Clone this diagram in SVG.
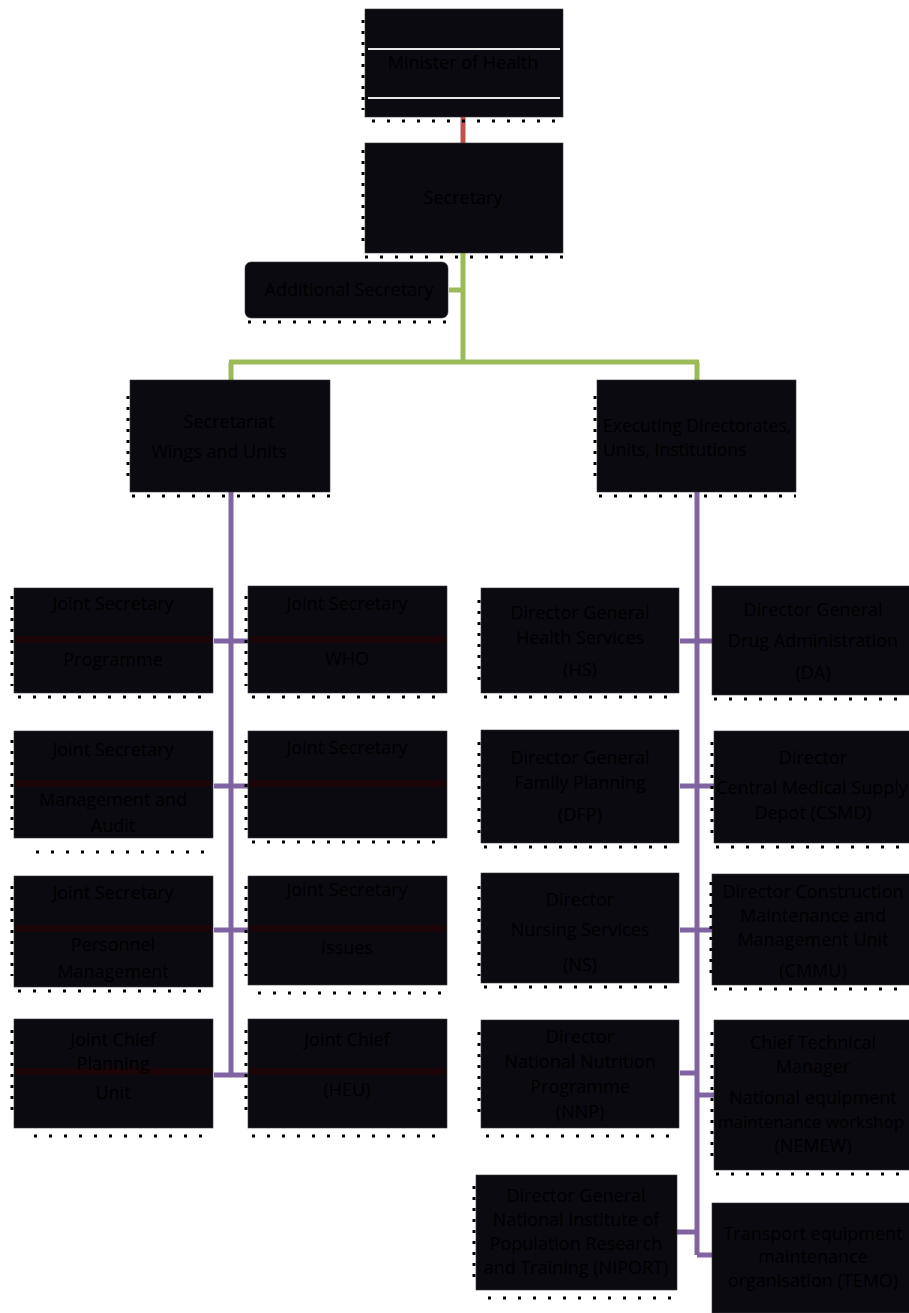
<svg xmlns="http://www.w3.org/2000/svg" width="909" height="1313" viewBox="0 0 909 1313">
<style>
.box{fill:#0b0a10;stroke:#3a3a3a;stroke-width:0.6}
.t{font-family:"Open Sans","Liberation Sans",sans-serif;font-size:18px;fill:#000;text-anchor:middle}
.tl{font-family:"Open Sans","Liberation Sans",sans-serif;font-size:17.5px;fill:#000}
.dotb{stroke:#000;stroke-width:3;stroke-dasharray:3 12;fill:none}
.dotl{stroke:#000;stroke-width:3;stroke-dasharray:3 8;fill:none}
.red{stroke:#c0504d;stroke-width:5;fill:none}
.grn{stroke:#9bbb59;stroke-width:5;fill:none}
.pur{stroke:#8064a2;stroke-width:5;fill:none}
.band{fill:#1a0608}
</style>
<rect width="909" height="1313" fill="#fff"/>
<g id="connectors">
<path class="red" d="M463 117V143"/>
<path class="grn" d="M463 253V362M449 290H463M229 362H699M231 362V380M697 362V380"/>
<path class="pur" d="M231 492V1075M214 641H248M214 786H248M214 930H248M214 1075H248"/>
<path class="pur" d="M697 492V1255M680 641H714M680 786H714M680 930H714M680 1073H697M697 1095H714M677 1232H697M697 1255H714"/>
</g>
<g id="minister">
<rect class="box" x="365" y="9" width="198" height="108"/>
<path d="M368 49H560M368 98H560" stroke="#e8e8e8" stroke-width="2"/>
<path class="dotb" d="M372 121H563"/><path class="dotl" d="M363 20V110"/>
<text class="t" x="463" y="69">Minister of Health</text>
</g>
<g id="secretary">
<rect class="box" x="365" y="143" width="198" height="110"/>
<path class="dotb" d="M365 257H563"/><path class="dotl" d="M363 150V245"/>
<text class="t" x="463" y="204">Secretary</text>
</g>
<g id="additional">
<rect class="box" x="245" y="262" width="203" height="56" rx="6"/>
<path class="dotb" d="M248 322H446"/>
<text class="t" x="349" y="296">Additional Secretary</text>
</g>
<g id="secretariat">
<rect class="box" x="130" y="380" width="200" height="112"/>
<path class="dotb" d="M132 496H330"/><path class="dotl" d="M128 396V480"/>
<text class="t" x="229" y="428">Secretariat</text>
<text class="t" x="219" y="458">Wings and Units</text>
</g>
<g id="executing">
<rect class="box" x="597" y="380" width="199" height="112"/>
<path class="dotb" d="M599 496H796"/><path class="dotl" d="M595 396V480"/>
<text class="tl" x="603" y="432">Executing Directorates,</text>
<text class="tl" x="603" y="456">Units, Institutions</text>
</g>
<g id="js1">
<rect class="box" x="14" y="588" width="199" height="105"/>
<path class="dotb" d="M18 697H213"/><path class="dotl" d="M12 596V686"/>
<text class="t" x="113" y="610">Joint Secretary</text>
<rect class="band" x="16" y="636" width="195" height="7"/>
<text class="t" x="113" y="666">Programme</text>
</g>
<g id="js2">
<rect class="box" x="248" y="586" width="199" height="107"/>
<path class="dotb" d="M252 697H447"/><path class="dotl" d="M246 596V686"/>
<text class="t" x="347" y="610">Joint Secretary</text>
<rect class="band" x="250" y="636" width="195" height="7"/>
<text class="t" x="347" y="665">WHO</text>
</g>
<g id="js3">
<rect class="box" x="14" y="731" width="199" height="107"/>
<path class="dotb" d="M36 852H213"/><path class="dotl" d="M12 740V830"/>
<text class="t" x="113" y="756">Joint Secretary</text>
<rect class="band" x="16" y="780" width="195" height="7"/>
<text class="t" x="113" y="806">Management and</text>
<text class="t" x="113" y="832">Audit</text>
</g>
<g id="js4">
<rect class="box" x="248" y="731" width="199" height="107"/>
<path class="dotb" d="M252 842H447"/><path class="dotl" d="M246 740V830"/>
<text class="t" x="347" y="754">Joint Secretary</text>
<rect class="band" x="250" y="780" width="195" height="7"/>
</g>
<g id="js5">
<rect class="box" x="14" y="876" width="199" height="111"/>
<path class="dotb" d="M18 991H213"/><path class="dotl" d="M12 886V976"/>
<text class="t" x="113" y="899">Joint Secretary</text>
<rect class="band" x="16" y="925" width="195" height="7"/>
<text class="t" x="113" y="951">Personnel</text>
<text class="t" x="113" y="978">Management</text>
</g>
<g id="js6">
<rect class="box" x="248" y="876" width="199" height="109"/>
<path class="dotb" d="M258 993H447"/><path class="dotl" d="M246 886V976"/>
<text class="t" x="347" y="896">Joint Secretary</text>
<rect class="band" x="250" y="925" width="195" height="7"/>
<text class="t" x="347" y="954">Issues</text>
</g>
<g id="jc1">
<rect class="box" x="14" y="1019" width="199" height="109"/>
<path class="dotb" d="M34 1136H213"/><path class="dotl" d="M12 1030V1118"/>
<text class="t" x="113" y="1046">Joint Chief</text>
<rect class="band" x="16" y="1068" width="195" height="7"/>
<text class="t" x="113" y="1070">Planning</text>
<text class="t" x="113" y="1099">Unit</text>
</g>
<g id="jc2">
<rect class="box" x="248" y="1019" width="199" height="109"/>
<path class="dotb" d="M252 1136H447"/><path class="dotl" d="M246 1030V1118"/>
<text class="t" x="347" y="1046">Joint Chief</text>
<rect class="band" x="250" y="1068" width="195" height="7"/>
<text class="t" x="347" y="1096">(HEU)</text>
</g>
<g id="hs">
<rect class="box" x="481" y="588" width="198" height="105"/>
<path class="dotb" d="M484 697H679"/><path class="dotl" d="M479 600V688"/>
<text class="t" x="580" y="619">Director General</text>
<text class="t" x="580" y="644">Health Services</text>
<text class="t" x="580" y="676">(HS)</text>
</g>
<g id="dfp">
<rect class="box" x="481" y="730" width="198" height="113"/>
<path class="dotb" d="M484 847H679"/><path class="dotl" d="M479 742V834"/>
<text class="t" x="580" y="764">Director General</text>
<text class="t" x="580" y="789">Family Planning</text>
<text class="t" x="580" y="821">(DFP)</text>
</g>
<g id="ns">
<rect class="box" x="481" y="873" width="198" height="110"/>
<path class="dotb" d="M484 987H679"/><path class="dotl" d="M479 886V976"/>
<text class="t" x="580" y="906">Director</text>
<text class="t" x="580" y="936">Nursing Services</text>
<text class="t" x="580" y="971">(NS)</text>
</g>
<g id="nnp">
<rect class="box" x="481" y="1020" width="198" height="108"/>
<path class="dotb" d="M486 1136H679"/><path class="dotl" d="M479 1032V1120"/>
<text class="t" x="580" y="1043">Director</text>
<text class="t" x="580" y="1068">National Nutrition</text>
<text class="t" x="580" y="1093">Programme</text>
<text class="t" x="580" y="1118">(NNP)</text>
</g>
<g id="niport">
<rect class="box" x="476" y="1175" width="201" height="115"/>
<path class="dotb" d="M488 1298H677"/><path class="dotl" d="M474 1186V1282"/>
<text class="t" x="576" y="1202">Director General</text>
<text class="t" x="576" y="1226">National Institute of</text>
<text class="t" x="576" y="1250">Population Research</text>
<text class="t" x="576" y="1274">and Training (NIPORT)</text>
</g>
<g id="da">
<rect class="box" x="712" y="586" width="200" height="109"/>
<path class="dotb" d="M714 699H909"/>
<text class="t" x="813" y="616">Director  General</text>
<text class="t" x="813" y="647">Drug Administration</text>
<text class="t" x="813" y="679">(DA)</text>
</g>
<g id="csmd">
<rect class="box" x="714" y="731" width="198" height="112"/>
<path class="dotb" d="M716 847H909"/><path class="dotl" d="M712 742V834"/>
<text class="t" x="813" y="764">Director</text>
<text class="t" x="812" y="794">Central Medical Supply</text>
<text class="t" x="813" y="819">Depot (CSMD)</text>
</g>
<g id="cmmu">
<rect class="box" x="712" y="874" width="200" height="111"/>
<path class="dotb" d="M714 989H909"/><path class="dotl" d="M711 882V976"/>
<text class="t" x="813" y="898">Director Construction</text>
<text class="t" x="813" y="922">Maintenance and</text>
<text class="t" x="813" y="946">Management Unit</text>
<text class="t" x="813" y="977">(CMMU)</text>
</g>
<g id="nemew">
<rect class="box" x="714" y="1020" width="198" height="150"/>
<path class="dotb" d="M716 1174H909"/><path class="dotl" d="M712 1032V1160"/>
<text class="t" x="813" y="1049">Chief Technical</text>
<text class="t" x="813" y="1073">Manager</text>
<text class="t" x="813" y="1104">National equipment</text>
<text class="t" x="811" y="1128" style="font-size:17px">maintenance workshop</text>
<text class="t" x="813" y="1152">(NEMEW)</text>
</g>
<g id="temo">
<rect class="box" x="712" y="1203" width="200" height="110"/>
<text class="t" x="813" y="1240">Transport equipment</text>
<text class="t" x="813" y="1263">maintenance</text>
<text class="t" x="813" y="1287">organisation (TEMO)</text>
</g>
</svg>
